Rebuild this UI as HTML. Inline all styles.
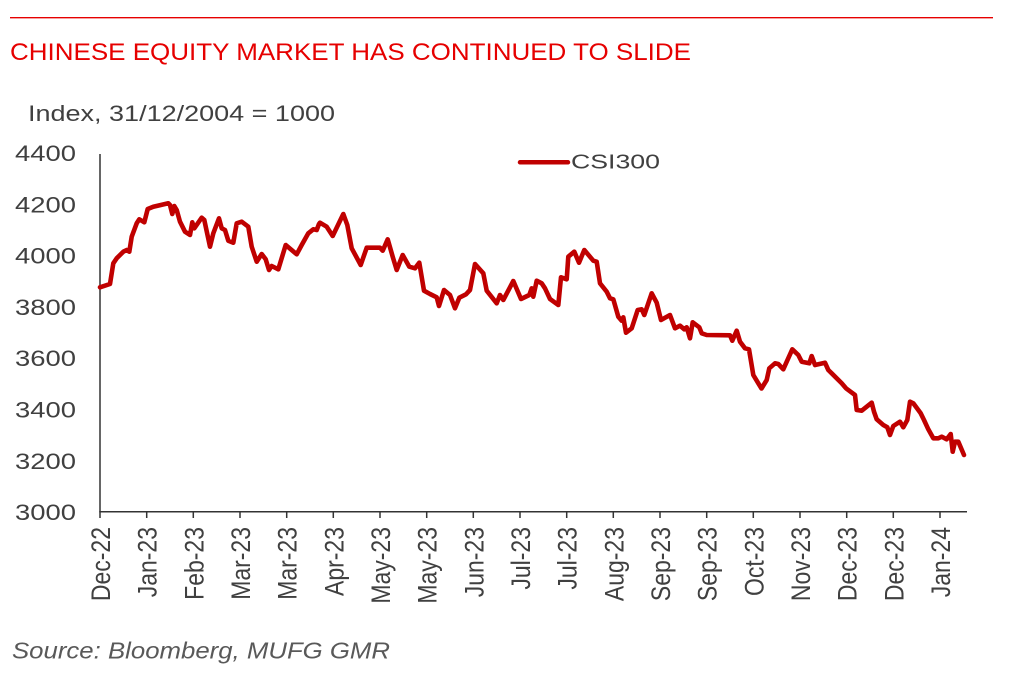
<!DOCTYPE html>
<html>
<head>
<meta charset="utf-8">
<style>
  html, body { margin: 0; padding: 0; background: #ffffff; }
  body { width: 1022px; height: 696px; overflow: hidden; }
  svg { display: block; }
  text { font-family: "Liberation Sans", Arial, sans-serif; }
</style>
</head>
<body>
<svg width="1022" height="696" viewBox="0 0 1022 696" xmlns="http://www.w3.org/2000/svg">
  <rect x="0" y="0" width="1022" height="696" fill="#ffffff"/>

  <!-- top rule -->
  <line x1="10" y1="17.7" x2="993" y2="17.7" stroke="#e60000" stroke-width="1.3"/>

  <!-- title -->
  <text x="10" y="60" font-size="24" fill="#e60000" textLength="681" lengthAdjust="spacingAndGlyphs">CHINESE EQUITY MARKET HAS CONTINUED TO SLIDE</text>

  <!-- unit label -->
  <text x="28" y="121" font-size="22" fill="#404040" textLength="307" lengthAdjust="spacingAndGlyphs">Index, 31/12/2004 = 1000</text>

  <!-- y-axis labels -->
  <g font-size="22" fill="#404040" text-anchor="end">
    <text x="76" y="161" textLength="61" lengthAdjust="spacingAndGlyphs">4400</text>
    <text x="76" y="212.3" textLength="61" lengthAdjust="spacingAndGlyphs">4200</text>
    <text x="76" y="263.6" textLength="61" lengthAdjust="spacingAndGlyphs">4000</text>
    <text x="76" y="314.9" textLength="61" lengthAdjust="spacingAndGlyphs">3800</text>
    <text x="76" y="366.2" textLength="61" lengthAdjust="spacingAndGlyphs">3600</text>
    <text x="76" y="417.5" textLength="61" lengthAdjust="spacingAndGlyphs">3400</text>
    <text x="76" y="468.8" textLength="61" lengthAdjust="spacingAndGlyphs">3200</text>
    <text x="76" y="520" textLength="61" lengthAdjust="spacingAndGlyphs">3000</text>
  </g>

  <!-- axes -->
  <line x1="100" y1="154" x2="100" y2="512" stroke="#333333" stroke-width="1.5"/>
  <line x1="99.3" y1="511.7" x2="967" y2="511.7" stroke="#333333" stroke-width="1.5"/>
  <g stroke="#333333" stroke-width="1.5">
    <line x1="100" y1="511.7" x2="100" y2="518"/>
    <line x1="146.7" y1="511.7" x2="146.7" y2="518"/>
    <line x1="193.3" y1="511.7" x2="193.3" y2="518"/>
    <line x1="240" y1="511.7" x2="240" y2="518"/>
    <line x1="286.7" y1="511.7" x2="286.7" y2="518"/>
    <line x1="333.3" y1="511.7" x2="333.3" y2="518"/>
    <line x1="380" y1="511.7" x2="380" y2="518"/>
    <line x1="426.7" y1="511.7" x2="426.7" y2="518"/>
    <line x1="473.3" y1="511.7" x2="473.3" y2="518"/>
    <line x1="520" y1="511.7" x2="520" y2="518"/>
    <line x1="566.7" y1="511.7" x2="566.7" y2="518"/>
    <line x1="613.3" y1="511.7" x2="613.3" y2="518"/>
    <line x1="660" y1="511.7" x2="660" y2="518"/>
    <line x1="706.7" y1="511.7" x2="706.7" y2="518"/>
    <line x1="753.3" y1="511.7" x2="753.3" y2="518"/>
    <line x1="800" y1="511.7" x2="800" y2="518"/>
    <line x1="846.7" y1="511.7" x2="846.7" y2="518"/>
    <line x1="893.3" y1="511.7" x2="893.3" y2="518"/>
    <line x1="940" y1="511.7" x2="940" y2="518"/>
  </g>

  <!-- x-axis labels (rotated) -->
  <g font-size="23" fill="#404040" text-anchor="end">
    <text transform="translate(110,527) scale(1.15,1) rotate(-90)">Dec-22</text>
    <text transform="translate(156.7,527) scale(1.15,1) rotate(-90)">Jan-23</text>
    <text transform="translate(203.3,527) scale(1.15,1) rotate(-90)">Feb-23</text>
    <text transform="translate(250,527) scale(1.15,1) rotate(-90)">Mar-23</text>
    <text transform="translate(296.7,527) scale(1.15,1) rotate(-90)">Mar-23</text>
    <text transform="translate(343.3,527) scale(1.15,1) rotate(-90)">Apr-23</text>
    <text transform="translate(390,527) scale(1.15,1) rotate(-90)">May-23</text>
    <text transform="translate(436.7,527) scale(1.15,1) rotate(-90)">May-23</text>
    <text transform="translate(483.3,527) scale(1.15,1) rotate(-90)">Jun-23</text>
    <text transform="translate(530,527) scale(1.15,1) rotate(-90)">Jul-23</text>
    <text transform="translate(576.7,527) scale(1.15,1) rotate(-90)">Jul-23</text>
    <text transform="translate(623.3,527) scale(1.15,1) rotate(-90)">Aug-23</text>
    <text transform="translate(670,527) scale(1.15,1) rotate(-90)">Sep-23</text>
    <text transform="translate(716.7,527) scale(1.15,1) rotate(-90)">Sep-23</text>
    <text transform="translate(763.3,527) scale(1.15,1) rotate(-90)">Oct-23</text>
    <text transform="translate(810,527) scale(1.15,1) rotate(-90)">Nov-23</text>
    <text transform="translate(856.7,527) scale(1.15,1) rotate(-90)">Dec-23</text>
    <text transform="translate(903.3,527) scale(1.15,1) rotate(-90)">Dec-23</text>
    <text transform="translate(950,527) scale(1.15,1) rotate(-90)">Jan-24</text>
  </g>

  <!-- legend -->
  <line x1="520" y1="162.3" x2="568" y2="162.3" stroke="#c00000" stroke-width="4.5" stroke-linecap="round"/>
  <text x="571" y="168.5" font-size="20" fill="#404040" textLength="89" lengthAdjust="spacingAndGlyphs">CSI300</text>

  <!-- series -->
  <polyline fill="none" stroke="#c00000" stroke-width="4.6" stroke-linejoin="round" stroke-linecap="round" points="
100,287.3 110,284 113.3,263.3 116.7,258.3 123.3,251.7 126.7,250 129.3,251.7 131.7,236.7 136.7,223.3 139.3,219.3
144.3,222.3 147.7,209 153.3,206.7 168.3,203.3 170,205 172.3,214 174.3,206 176.7,210 180,221.7 185,231.7
190,235 192.3,222.3 194.3,228.3 201.7,217.7 204.3,220 210,246.7 213.3,233.3 219,218.3 221.7,228.3 225,230
228.3,240.7 233.3,242.7 236.7,223.3 241.7,221.7 248.3,226.7 251.7,246.7 256.7,261.7 261.7,254 265.7,259.3 269,270
271.7,266 278.3,269.3 285.7,245 296.7,254.3 301.7,245 308.3,233.3 313.3,229.3 316.7,230 319,224 320,222.7
326.7,226.7 332.7,236 343.3,214 347.3,225 351.7,248.3 360.7,265 366.7,247.7 380,247.7 382.7,250.7 387.7,239.3
392.7,256.7 396.7,270 402.7,255 409.3,266.7 415,268.3 419.3,262.7 424,290.7 430,294 436.7,297.3 439,306
444,290 450,295 455,308.3 459.3,297.7 466,294.3 470,290 475,264 483.3,273.3 486.7,290.7 496.7,303.3
500,295 503.3,300 513.3,281 521,299 529.3,295 531.7,288.3 533.3,296.7 536.7,280.7 541.7,283.3 545,288.3
550,299 558.3,305 561,277.3 566.7,279.3 568.3,256.7 574.3,251.7 579,262.7 584.3,250 593.3,260.7 596.7,261.7
600,283.3 606.7,291.7 610,298.3 613.3,299.3 618.3,316.7 621.7,320.7 623.3,317.3 626,332.7 631.7,328.3 637.7,310
641.7,309.3 644.3,315 651.7,293.3 656.7,302.7 661,320 670,315 675,328.3 680,325.7 684.3,329.3 686.7,327.3
690,338.3 692.7,322.3 699.3,327.3 701.7,333.3 706.7,335 730,335.3 732.3,340.7 736.7,330.7 740,341.7 745,348.3
749,349.3 753.3,375 758.3,383.3 761.5,388.5 766.7,380 769.3,368.3 775,363.3 778.3,364 783.3,369.3 792.3,349.3
798.3,355 801.7,361.7 809.3,363.3 811.7,356 815,365 825,362.7 828.3,370 831.7,373.3 841.7,383.3 846,388.3
855,395 856.7,410 861.7,410.7 871.7,402.7 874,411.7 876.7,419.3 883.3,425 887.3,427.3 890,435 893.3,426
900,421.7 903.3,427.3 907.3,420 910,401.7 913.3,403.3 920.7,413.3 924,420 928.3,429.3 933.3,438.3 938.3,438.3
941.7,436.7 946.7,439.3 950.7,434 952.7,451.7 955,441.7 958.3,441.7 964,455"/>

  <!-- source -->
  <text x="12" y="658.5" font-size="23" font-style="italic" fill="#595959" textLength="378" lengthAdjust="spacingAndGlyphs">Source: Bloomberg, MUFG GMR</text>
</svg>
</body>
</html>
